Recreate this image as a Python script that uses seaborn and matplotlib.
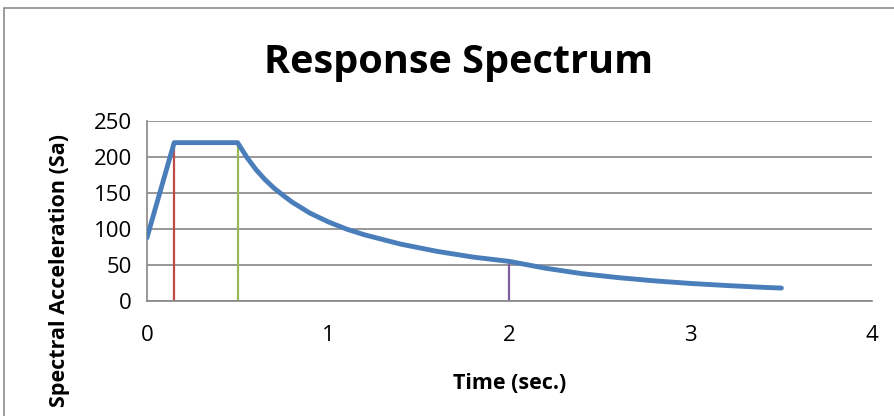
import matplotlib
matplotlib.use("Agg")
import pandas as pd
import seaborn as sns
from matplotlib import pyplot as plt
from matplotlib.patches import Rectangle

# values
period = [0.0, 0.15, 0.5, 0.55, 0.6, 0.65, 0.7, 0.75, 0.8, 0.9, 1.0, 1.1, 1.2,
          1.4, 1.6, 1.8, 2.0, 2.2, 2.4, 2.6, 2.8, 3.0, 3.2, 3.4, 3.5]
sa = [88, 220, 220, 200, 183, 169, 157, 147, 137.5, 122, 110, 100, 92,
      79, 69, 61, 55, 45.5, 38, 32.5, 28, 24.4, 21.5, 19, 18]

# corner periods marked with vertical lines
marker_t = [0.15, 0.5, 2.0]
marker_sa = [220, 220, 55]
marker_colors = ["#BE4B48", "#98B954", "#7D60A0"]

x_ticks = [0, 1, 2, 3, 4]
y_ticks = [0, 50, 100, 150, 200, 250]

sns.set_style("white")
plt.rcParams["font.family"] = ["Open Sans", "DejaVu Sans"]
plt.rcParams["text.color"] = "black"
plt.rcParams["axes.labelcolor"] = "black"

fig = plt.figure(figsize=(8.94, 4.16), dpi=100)
ax = fig.add_axes([0.1644, 0.2764, 0.8110, 0.4326])

df = pd.DataFrame({"T": period, "Sa": sa})

for t, s, c in zip(marker_t, marker_sa, marker_colors):
    sns.lineplot(x=[t, t], y=[0, s], ax=ax, color=c, linewidth=1.6,
                 estimator=None, sort=False)

sns.lineplot(data=df, x="T", y="Sa", ax=ax, color="#4A7EBB", linewidth=3.5,
             solid_capstyle="round", solid_joinstyle="round", zorder=5)

ax.set_xlim(0, 4)
ax.set_ylim(0, 250)
ax.set_xticks(x_ticks)
ax.set_yticks(y_ticks)
ax.yaxis.grid(True, color="#868686", linewidth=1.2)
ax.xaxis.grid(False)
for side in ["top", "right"]:
    ax.spines[side].set_visible(False)
for side in ["left", "bottom"]:
    ax.spines[side].set_color("#868686")
    ax.spines[side].set_linewidth(1.2)
ax.tick_params(axis="both", direction="out", length=5, width=1.2, color="#868686",
               labelsize=16, labelcolor="black", pad=6)
ax.tick_params(axis="x", pad=12)

ax.set_xlabel("Time (sec.)", fontsize=15.5, fontweight="bold", labelpad=20)
ax.set_ylabel("")
fig.text(0.066, 0.35, "Spectral Acceleration (Sa)", rotation=90, fontsize=15.5,
         fontweight="bold", ha="center", va="center")
fig.text(0.513, 0.85, "Response Spectrum", fontsize=28.5, fontweight="bold",
         ha="center", va="center")

# chart-area frame, cut off at the right and bottom
fig.patches.append(Rectangle((4 / 894, -0.1), 1.2, 1 - 8 / 416 + 0.1,
                             transform=fig.transFigure, fill=False,
                             edgecolor="#8C8C8C", linewidth=1.2))

fig.savefig("out.png", dpi=100)
